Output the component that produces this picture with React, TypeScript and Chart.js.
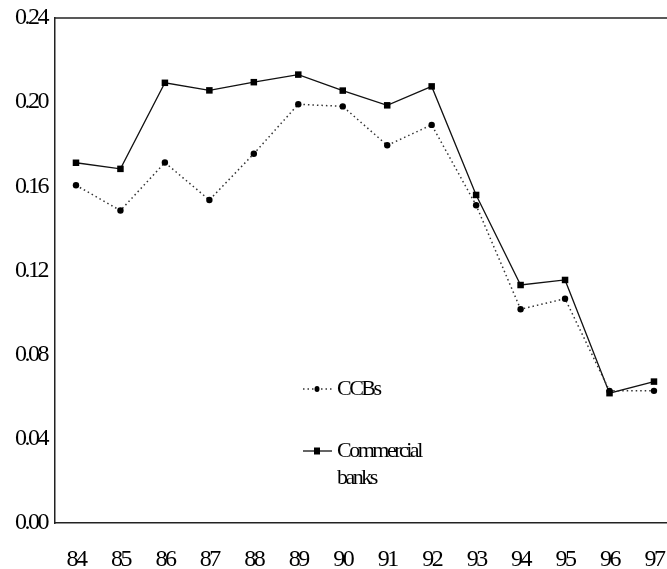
import React, { useEffect, useRef } from 'react';
import { Chart, registerables } from 'chart.js';

Chart.register(...registerables);

// ---- data ----
const years = [84, 85, 86, 87, 88, 89, 90, 91, 92, 93, 94, 95, 96, 97];
const ccbs = [0.1605, 0.1485, 0.1713, 0.1535, 0.1755, 0.199, 0.198, 0.1795, 0.1892, 0.151, 0.1016, 0.1066, 0.0628, 0.0628];
const commercialBanks = [0.1712, 0.1683, 0.2092, 0.2056, 0.2095, 0.2131, 0.2055, 0.1985, 0.2075, 0.1559, 0.1131, 0.1155, 0.0617, 0.0672];
const yTicks = [0, 0.04, 0.08, 0.12, 0.16, 0.2, 0.24];
const seriesNames = ['CCBs', 'Commercial banks'];

const FONT = "'Liberation Serif', 'Times New Roman', serif";

const condense = {
  id: 'condense',
  beforeDraw(chart: any) {
    chart.ctx.letterSpacing = '-2.5px';
  },
};

const frameTop = {
  id: 'frameTop',
  afterDraw(chart: any) {
    const { ctx, chartArea } = chart;
    ctx.save();
    ctx.strokeStyle = '#222';
    ctx.lineWidth = 1.5;
    ctx.beginPath();
    ctx.moveTo(chartArea.left - 0.75, chartArea.top);
    ctx.lineTo(chartArea.right, chartArea.top);
    ctx.stroke();
    ctx.restore();
  },
};

const innerLegend = {
  id: 'innerLegend',
  afterDraw(chart: any) {
    const { ctx, chartArea } = chart;
    const x0 = chartArea.left + 248;
    const rows = [chartArea.top + 371, chartArea.top + 433];
    ctx.save();
    ctx.font = `22px ${FONT}`;
    ctx.letterSpacing = '-2.5px';
    ctx.fillStyle = '#000';
    ctx.textBaseline = 'middle';
    chart.data.datasets.forEach((ds: any, i: number) => {
      const y = rows[i];
      ctx.strokeStyle = ds.borderColor;
      ctx.lineWidth = ds.borderWidth;
      ctx.setLineDash(ds.borderDash || []);
      ctx.beginPath();
      ctx.moveTo(x0, y);
      ctx.lineTo(x0 + 29, y);
      ctx.stroke();
      ctx.setLineDash([]);
      ctx.fillStyle = '#000';
      if (ds.pointStyle === 'rect') {
        ctx.fillRect(x0 + 11, y - 3.5, 6, 7);
      } else {
        ctx.beginPath();
        ctx.ellipse(x0 + 14, y, 2.5, 3, 0, 0, Math.PI * 2);
        ctx.fill();
      }
      const words = String(ds.label).split(' ');
      const lines: string[] = [];
      let cur = '';
      words.forEach((w) => {
        const test = cur ? cur + ' ' + w : w;
        if (ctx.measureText(test).width > 90 && cur) {
          lines.push(cur);
          cur = w;
        } else cur = test;
      });
      if (cur) lines.push(cur);
      lines.forEach((ln, k) => ctx.fillText(ln, x0 + 34, y + k * 27));
    });
    ctx.restore();
  },
};

export default function App() {
  const ref = useRef<HTMLCanvasElement | null>(null);
  useEffect(() => {
    document.body.style.margin = '0';
    document.body.style.overflow = 'hidden';
    Chart.defaults.font.family = FONT;
    Chart.defaults.font.size = 24;
    Chart.defaults.color = '#000';
    const chart = new Chart(ref.current as HTMLCanvasElement, {
      type: 'line',
      data: {
        datasets: [
          {
            label: seriesNames[0],
            data: years.map((y, i) => ({ x: y, y: ccbs[i] })),
            borderColor: '#333',
            borderWidth: 1.5,
            borderDash: [1.5, 3],
            pointStyle: 'circle',
            pointRadius: 3.2,
            pointBackgroundColor: '#000',
            pointBorderColor: '#000',
            pointBorderWidth: 0,
            tension: 0,
          },
          {
            label: seriesNames[1],
            data: years.map((y, i) => ({ x: y, y: commercialBanks[i] })),
            borderColor: '#111',
            borderWidth: 1.3,
            pointStyle: 'rect',
            pointRadius: 4.6,
            pointBackgroundColor: '#000',
            pointBorderColor: '#000',
            pointBorderWidth: 0,
            tension: 0,
          },
        ],
      },
      options: {
        animation: false,
        responsive: false,
        events: [],
        layout: { autoPadding: false, padding: { top: 18, right: 0, left: 0, bottom: 0 } },
        plugins: {
          legend: { display: false },
          tooltip: { enabled: false },
        },
        scales: {
          x: {
            type: 'linear',
            min: 83.528,
            max: 97.293,
            grid: { display: false, drawTicks: false },
            border: { display: true, color: '#222', width: 1.5 },
            afterBuildTicks: (scale: any) => {
              scale.ticks = years.map((v) => ({ value: v }));
            },
            afterFit: (scale: any) => {
              scale.height = 46;
              scale.paddingLeft = 0;
              scale.paddingRight = 0;
            },
            ticks: {
              padding: 22,
              maxRotation: 0,
              autoSkip: false,
              callback: (v: any) => String(v),
            },
          },
          y: {
            min: 0,
            max: 0.24,
            grid: { display: false, drawTicks: false },
            border: { display: true, color: '#222', width: 1.5 },
            afterBuildTicks: (scale: any) => {
              scale.ticks = yTicks.map((v) => ({ value: v }));
            },
            afterFit: (scale: any) => {
              scale.width = 55;
              scale.paddingTop = 0;
              scale.paddingBottom = 0;
            },
            ticks: {
              padding: 8,
              callback: (v: any) => Number(v).toFixed(2),
            },
          },
        },
      },
      plugins: [condense, frameTop, innerLegend],
    });
    return () => chart.destroy();
  }, []);
  return (
    <div style={{ width: 667, height: 569 }}>
      <canvas ref={ref} width={667} height={569} />
    </div>
  );
}
